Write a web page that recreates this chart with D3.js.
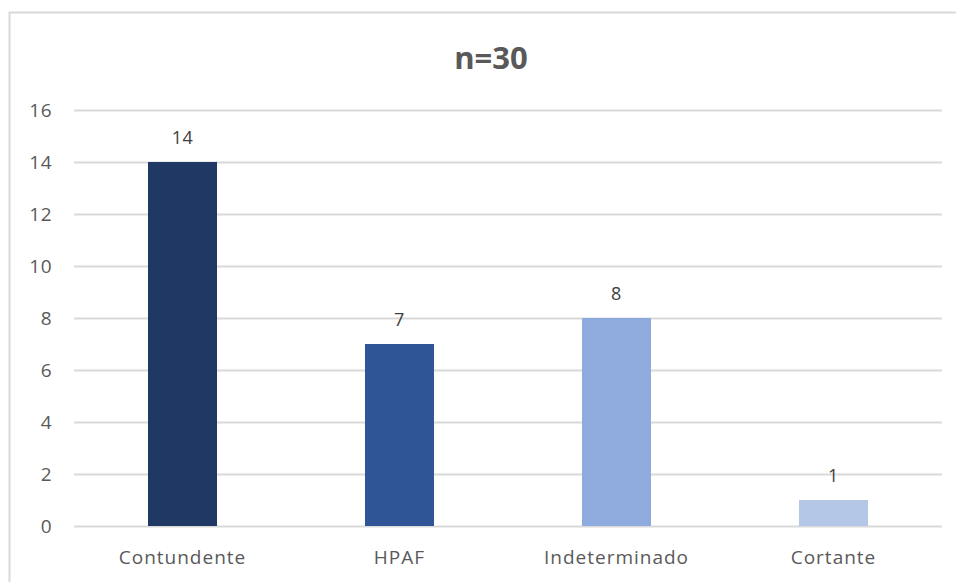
<!DOCTYPE html>
<html>
<head>
<meta charset="utf-8">
<script src="https://cdn.jsdelivr.net/npm/d3@7"></script>
<style>
  body { margin: 0; background: #fff; }
  text { font-family: "Open Sans", "Segoe UI", sans-serif; }
</style>
</head>
<body>
<div id="chart"></div>
<script>
// Chart data
var categories = ["Contundente", "HPAF", "Indeterminado", "Cortante"];
var values = [14, 7, 8, 1];
var barColors = ["#203864", "#2f5597", "#8faadc", "#b4c7e7"];
var yTicks = [0, 2, 4, 6, 8, 10, 12, 14, 16];
var title = "n=30";

var w = 956;
var h = 582;
var margin = { top: 110, right: 14, bottom: 56, left: 74 };

var svg = d3.select("#chart")
  .append("svg")
  .attr("width", w)
  .attr("height", h);

// frame around the chart
svg.append("path")
  .attr("d", "M9.5,582 L9.5,12.5 L956,12.5")
  .attr("fill", "none")
  .attr("stroke", "#d9d9d9")
  .attr("stroke-width", 2);

var x = d3.scaleBand()
  .domain(categories)
  .range([margin.left, w - margin.right])
  .paddingInner(0.682)
  .paddingOuter(0.341);

var y = d3.scaleLinear()
  .domain([0, 16])
  .range([h - margin.bottom, margin.top]);

// gridlines + y labels
var yAxis = svg.append("g")
  .attr("transform", "translate(" + margin.left + ",0)")
  .call(d3.axisLeft(y).tickValues(yTicks).tickSize(-(w - margin.left - margin.right)).tickPadding(22));
yAxis.select(".domain").remove();
yAxis.selectAll(".tick line").attr("stroke", "#d9d9d9").attr("stroke-width", 2);
yAxis.selectAll(".tick text")
  .attr("fill", "#595959")
  .style("font-size", "19px")
  .style("letter-spacing", "0.5px");

// bars
svg.selectAll("rect.bar")
  .data(values)
  .enter()
  .append("rect")
  .attr("class", "bar")
  .attr("x", function(d, i) { return x(categories[i]); })
  .attr("y", function(d) { return y(d); })
  .attr("width", x.bandwidth())
  .attr("height", function(d) { return y(0) - y(d); })
  .attr("fill", function(d, i) { return barColors[i]; });

// value labels
svg.selectAll("text.val")
  .data(values)
  .enter()
  .append("text")
  .attr("class", "val")
  .attr("x", function(d, i) { return x(categories[i]) + x.bandwidth() / 2; })
  .attr("y", function(d) { return y(d) - 18; })
  .attr("text-anchor", "middle")
  .attr("fill", "#404040")
  .style("font-size", "18px")
  .style("letter-spacing", "0.5px")
  .text(function(d) { return d; });

// category labels
svg.selectAll("text.cat")
  .data(categories)
  .enter()
  .append("text")
  .attr("class", "cat")
  .attr("x", function(d) { return x(d) + x.bandwidth() / 2; })
  .attr("y", h - 18)
  .attr("text-anchor", "middle")
  .attr("fill", "#595959")
  .style("font-size", "19px")
  .style("letter-spacing", "1px")
  .text(function(d) { return d; });

// title
svg.append("text")
  .attr("x", 491)
  .attr("y", 69)
  .attr("text-anchor", "middle")
  .attr("fill", "#595959")
  .style("font-size", "31px")
  .style("font-weight", "bold")
  .text(title);
</script>
</body>
</html>
